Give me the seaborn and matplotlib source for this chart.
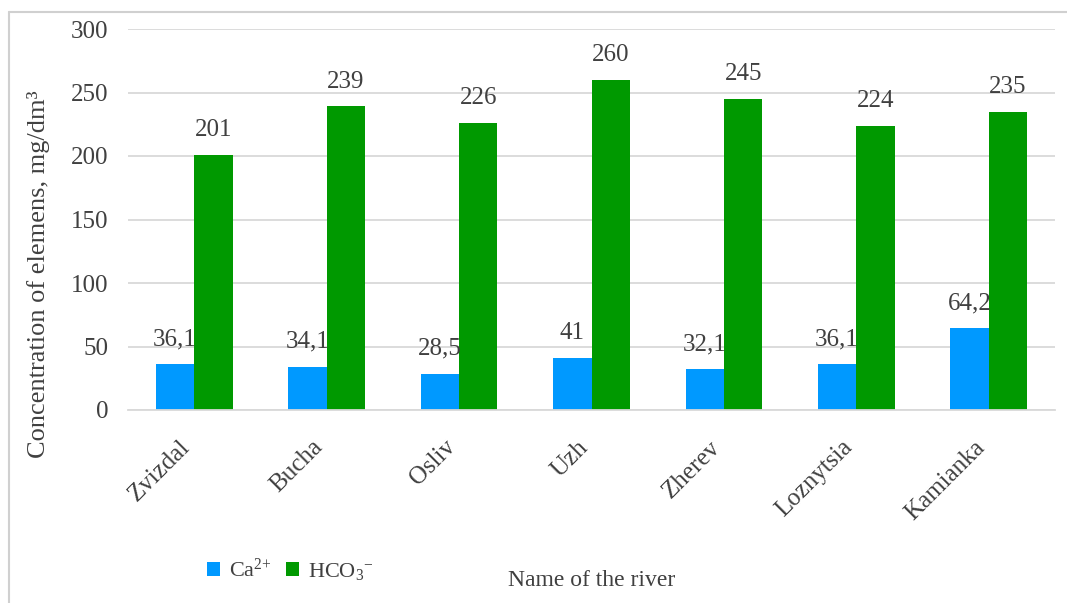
import matplotlib
matplotlib.use("Agg")
import matplotlib.pyplot as plt
from matplotlib.lines import Line2D
from matplotlib.patches import Patch
from matplotlib.transforms import ScaledTranslation
import seaborn as sns
import pandas as pd

rivers = ["Zvizdal", "Bucha", "Osliv", "Uzh", "Zherev", "Loznytsia", "Kamianka"]
ca_values = [36.1, 34.1, 28.5, 41, 32.1, 36.1, 64.2]
hco3_values = [201, 239, 226, 260, 245, 224, 235]
series_names = ["Ca$^{2{+}}$", "HCO$_{3}$$^{{-}}$"]
y_ticks = [0, 50, 100, 150, 200, 250, 300]

colors = ["#0099ff", "#009900"]
text_color = "#404040"
grid_color = "#d9d9d9"

df = pd.DataFrame({
    "river": rivers * 2,
    "ion": [series_names[0]] * len(rivers) + [series_names[1]] * len(rivers),
    "value": ca_values + hco3_values,
})

sns.set_theme(style="white")
plt.rcParams["font.family"] = ["Liberation Serif", "DejaVu Serif"]
plt.rcParams["mathtext.fontset"] = "custom"
plt.rcParams["mathtext.rm"] = "Liberation Serif"
plt.rcParams["mathtext.it"] = "Liberation Serif:italic"
plt.rcParams["mathtext.default"] = "rm"
plt.rcParams["text.color"] = text_color

W, H = 1067, 603
fig = plt.figure(figsize=(W / 100, H / 100), dpi=100)
ax = fig.add_axes([128 / W, 1 - 410 / H, (1055 - 128) / W, (410 - 29) / H])

sns.barplot(data=df, x="river", y="value", hue="ion", order=rivers,
            hue_order=series_names, palette=colors, width=0.58,
            saturation=1, ax=ax, legend=False, errorbar=None,
            linewidth=0, edgecolor="none")

def fmt(v):
    s = f"{v:g}"
    return s.replace(".", ",")

for container, vals in zip(ax.containers, [ca_values, hco3_values]):
    ax.bar_label(container, labels=[fmt(v) for v in vals], padding=10,
                 fontsize=18, color=text_color)

ax.set_ylim(0, 300)
ax.set_yticks(y_ticks)
ax.set_xlim(-0.5, len(rivers) - 0.5)
ax.yaxis.grid(True, color=grid_color, linewidth=1.3)
ax.set_axisbelow(True)
for side in ["top", "right", "left"]:
    ax.spines[side].set_visible(False)
ax.spines["bottom"].set_color(grid_color)
ax.spines["bottom"].set_linewidth(1.3)
ax.tick_params(axis="both", length=0, labelsize=18, labelcolor=text_color)
ax.tick_params(axis="y", pad=14)
ax.tick_params(axis="x", pad=8)
shift = ScaledTranslation(-15 / 100, -15 / 100, fig.dpi_scale_trans)
for lbl in ax.get_xticklabels():
    lbl.set_rotation(45)
    lbl.set_ha("right")
    lbl.set_rotation_mode("anchor")
    lbl.set_transform(lbl.get_transform() + shift)

ax.set_xlabel("")
ax.set_ylabel("")
fig.text(39 / W, 1 - 274 / H, "Concentration of elemens, mg/dm³",
         rotation=90, ha="center", va="center", fontsize=19, color=text_color)

fig.text((128 + 1055) / 2 / W, 1 - 580 / H, "Name of the river",
         ha="center", va="center", fontsize=17, color=text_color)

handles = [Patch(facecolor=c, edgecolor="none") for c in colors]
fig.legend(handles, series_names, loc="center left",
           bbox_to_anchor=(207 / W, 1 - 570 / H), frameon=False,
           fontsize=16, handlelength=0.58, handleheight=0.58,
           handletextpad=0.4, columnspacing=0.65, ncol=2,
           borderpad=0, borderaxespad=0, labelcolor=text_color)

# light frame along the top and left edges
fig.add_artist(Line2D([8.5 / W, 1], [1 - 12 / H, 1 - 12 / H],
                      transform=fig.transFigure, color="#d0d0d0", linewidth=1.5))
fig.add_artist(Line2D([8.5 / W, 8.5 / W], [0, 1 - 12 / H],
                      transform=fig.transFigure, color="#d0d0d0", linewidth=1.5))

fig.savefig("out.png", dpi=100, facecolor="white")
